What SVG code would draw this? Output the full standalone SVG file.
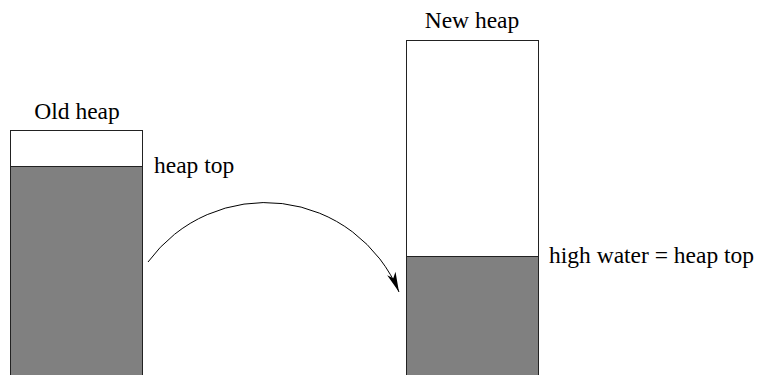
<svg xmlns="http://www.w3.org/2000/svg" width="760" height="375" viewBox="0 0 760 375">
<defs>
<style>
.lbl{font-family:"Liberation Serif","Times New Roman",Times,serif;font-size:23.5px;fill:#000}
.box{fill:#fff;stroke:#222;stroke-width:1}
.used{fill:#808080;stroke:#222;stroke-width:1}
.conn{fill:none;stroke:#000;stroke-width:1}
</style>
<marker id="arr" markerUnits="userSpaceOnUse" markerWidth="24" markerHeight="14" viewBox="-22 -7 24 14" refX="0" refY="0" orient="auto">
<path d="M0,0 L-20,-4.5 L-15,0 L-20,4.5 Z" fill="#000"/>
</marker>
</defs>
<g id="old-heap">
<rect class="box" x="10.5" y="130.5" width="132" height="260"/>
<rect class="used" x="10.5" y="166.5" width="132" height="224"/>
<text class="lbl" font-family="Liberation Serif, serif" x="77" y="119" text-anchor="middle">Old heap</text>
<text class="lbl" font-family="Liberation Serif, serif" x="154" y="173">heap top</text>
</g>
<g id="new-heap">
<rect class="box" x="406.5" y="40.5" width="132" height="350"/>
<rect class="used" x="406.5" y="256.5" width="132" height="134"/>
<text class="lbl" font-family="Liberation Serif, serif" x="472" y="28" text-anchor="middle">New heap</text>
<text class="lbl" font-family="Liberation Serif, serif" x="549" y="263">high water = heap top</text>
</g>
<g id="connectors">
<path class="conn" d="M148,262 A145,145 0 0,1 399,292" marker-end="url(#arr)"/>
</g>
</svg>
